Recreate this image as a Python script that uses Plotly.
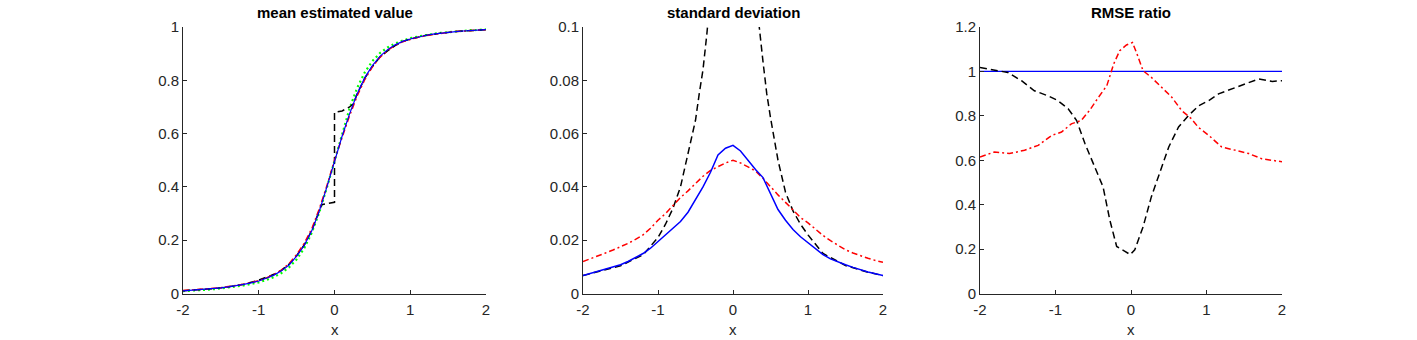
import plotly.graph_objects as go

# ---------------- data ----------------
x_grid = [round(-2 + 0.1 * i, 1) for i in range(41)]

# panel 1: mean estimated value
mean_blue = [0.010, 0.012, 0.014, 0.016, 0.018, 0.021, 0.025, 0.029, 0.034, 0.040,
             0.047, 0.057, 0.069, 0.085, 0.107, 0.140, 0.180, 0.235, 0.310, 0.400,
             0.500, 0.590, 0.675, 0.750, 0.810, 0.855, 0.890, 0.915, 0.933, 0.946,
             0.955, 0.962, 0.968, 0.973, 0.977, 0.980, 0.983, 0.985, 0.987, 0.989, 0.990]
mean_red = [0.011, 0.013, 0.015, 0.017, 0.019, 0.022, 0.026, 0.030, 0.035, 0.041,
            0.048, 0.058, 0.071, 0.088, 0.112, 0.146, 0.188, 0.243, 0.318, 0.405,
            0.500, 0.585, 0.668, 0.742, 0.803, 0.850, 0.886, 0.912, 0.931, 0.945,
            0.954, 0.961, 0.967, 0.972, 0.976, 0.980, 0.983, 0.985, 0.987, 0.989, 0.990]
mean_green = [0.009, 0.010, 0.012, 0.014, 0.016, 0.019, 0.022, 0.026, 0.030, 0.036,
              0.042, 0.051, 0.062, 0.077, 0.098, 0.128, 0.170, 0.228, 0.305, 0.398,
              0.500, 0.602, 0.695, 0.772, 0.830, 0.872, 0.902, 0.923, 0.938, 0.949,
              0.958, 0.964, 0.970, 0.974, 0.978, 0.981, 0.984, 0.986, 0.988, 0.989, 0.991]
x_mean_black = [-2.0, -1.8, -1.6, -1.4, -1.2, -1.0, -0.9, -0.8, -0.7, -0.6, -0.5, -0.4,
                -0.3, -0.2, -0.17, -0.1, 0.0, 0.0, 0.1, 0.2, 0.25, 0.3, 0.4, 0.5, 0.6,
                0.7, 0.8, 0.9, 1.0, 1.2, 1.4, 1.6, 1.8, 2.0]
mean_black = [0.010, 0.014, 0.018, 0.025, 0.035, 0.050, 0.060, 0.072, 0.088, 0.110, 0.142, 0.182,
              0.237, 0.312, 0.333, 0.337, 0.342, 0.680, 0.685, 0.700, 0.712, 0.750, 0.808, 0.852, 0.887,
              0.910, 0.930, 0.945, 0.955, 0.968, 0.977, 0.983, 0.987, 0.990]

# panel 2: standard deviation
std_blue = [0.0067, 0.0075, 0.0083, 0.0091, 0.0099, 0.0108, 0.0120, 0.0135, 0.0150, 0.0170,
            0.0195, 0.0220, 0.0245, 0.0270, 0.0305, 0.0350, 0.0400, 0.0455, 0.0520, 0.0545,
            0.0556, 0.0535, 0.0500, 0.0465, 0.0435, 0.0375, 0.0315, 0.0275, 0.0240, 0.0213,
            0.0190, 0.0168, 0.0146, 0.0130, 0.0118, 0.0108, 0.0098, 0.0089, 0.0081, 0.0074, 0.0067]
std_red = [0.0120, 0.0130, 0.0141, 0.0152, 0.0163, 0.0175, 0.0188, 0.0203, 0.0220, 0.0245,
           0.0275, 0.0300, 0.0330, 0.0360, 0.0385, 0.0412, 0.0440, 0.0462, 0.0477, 0.0490,
           0.0500, 0.0490, 0.0475, 0.0460, 0.0432, 0.0400, 0.0370, 0.0342, 0.0312, 0.0285,
           0.0265, 0.0240, 0.0218, 0.0198, 0.0180, 0.0164, 0.0152, 0.0141, 0.0132, 0.0124, 0.0117]
x_std_black = [-2.0, -1.8, -1.5, -1.2, -1.0, -0.9, -0.8, -0.7, -0.6, -0.5, -0.45, -0.4, -0.35,
               -0.3, -0.2, 0.0, 0.2, 0.3, 0.35, 0.4, 0.45, 0.5, 0.6, 0.7, 0.8, 0.9, 1.0, 1.2,
               1.5, 1.8, 2.0]
std_black = [0.0067, 0.0082, 0.0104, 0.0145, 0.0210, 0.0260, 0.0320, 0.0400, 0.0520, 0.0650, 0.0750,
             0.0840, 0.0970, 0.1150, 0.1600, 0.2000, 0.1600, 0.1200, 0.1000, 0.0870, 0.0750,
             0.0660, 0.0500, 0.0380, 0.0310, 0.0260, 0.0220, 0.0150, 0.0105, 0.0080, 0.0067]

# panel 3: RMSE ratio
x_rmse_black = [-2.0, -1.81, -1.63, -1.45, -1.28, -1.1, -0.97, -0.83, -0.72, -0.61, -0.48, -0.37,
                -0.28, -0.19, -0.08, -0.01, 0.05, 0.16, 0.27, 0.39, 0.5, 0.63, 0.76, 0.9,
                1.03, 1.16, 1.33, 1.51, 1.69, 1.87, 2.0]
rmse_black = [1.018, 1.006, 0.995, 0.958, 0.913, 0.890, 0.869, 0.831, 0.779, 0.675, 0.570, 0.480,
              0.330, 0.212, 0.190, 0.175, 0.197, 0.300, 0.436, 0.555, 0.660, 0.750, 0.801, 0.846,
              0.869, 0.899, 0.921, 0.943, 0.966, 0.955, 0.958]
x_rmse_red = [-2.0, -1.81, -1.61, -1.41, -1.23, -1.05, -0.92, -0.79, -0.66, -0.55, -0.43, -0.32,
              -0.23, -0.15, -0.06, 0.02, 0.08, 0.16, 0.27, 0.41, 0.54, 0.67, 0.8, 0.89,
              1.03, 1.2, 1.38, 1.56, 1.73, 2.0]
rmse_red = [0.615, 0.637, 0.630, 0.645, 0.667, 0.712, 0.727, 0.764, 0.779, 0.824, 0.884, 0.936,
            1.033, 1.093, 1.119, 1.130, 1.078, 1.003, 0.973, 0.928, 0.884, 0.824, 0.787, 0.749,
            0.712, 0.660, 0.645, 0.630, 0.607, 0.593]
x_ref = [-2.0, 2.0]
rmse_ref = [1.0, 1.0]

titles = ["mean estimated value", "standard deviation", "RMSE ratio"]
x_ticks = [-2, -1, 0, 1, 2]
y_ticks = [[0, 0.2, 0.4, 0.6, 0.8, 1], [0, 0.02, 0.04, 0.06, 0.08, 0.1],
           [0, 0.2, 0.4, 0.6, 0.8, 1, 1.2]]
y_tick_text = [["0", "0.2", "0.4", "0.6", "0.8", "1"],
               ["0", "0.02", "0.04", "0.06", "0.08", "0.1"],
               ["0", "0.2", "0.4", "0.6", "0.8", "1", "1.2"]]
y_ranges = [[0, 1], [0, 0.1], [0, 1.2]]

# ---------------- styling ----------------
W, H = 1417, 340
BLACK = "#000000"
RED = "#FF0000"
BLUE = "#0000FF"
GREEN = "#00FF00"
DASH = "7px,4px"
DASHDOT = "6px,3px,2px,3px"
DOT = "2px,3px"
AX = "#262626"
FONT = "Liberation Sans, Arial, sans-serif"

x_px = [(183, 486), (583, 883), (980, 1282)]
y_px = (27, 293.5)

fig = go.Figure()

def add(xs, ys, color, dash, ax, width=1.5):
    fig.add_trace(go.Scatter(x=xs, y=ys, mode="lines", xaxis="x" if ax == 1 else f"x{ax}",
                             yaxis="y" if ax == 1 else f"y{ax}",
                             line=dict(color=color, dash=dash, width=width),
                             showlegend=False, hoverinfo="skip"))

add(x_grid, mean_green, GREEN, DOT, 1, 2.2)
add(x_mean_black, mean_black, BLACK, DASH, 1)
add(x_grid, mean_red, RED, DASHDOT, 1)
add(x_grid, mean_blue, BLUE, "solid", 1, 1.2)

add(x_std_black, std_black, BLACK, DASH, 2)
add(x_grid, std_red, RED, DASHDOT, 2)
add(x_grid, std_blue, BLUE, "solid", 2)

add(x_ref, rmse_ref, BLUE, "solid", 3, 1.3)
add(x_rmse_black, rmse_black, BLACK, DASH, 3)
add(x_rmse_red, rmse_red, RED, DASHDOT, 3)

layout = dict(template="none", width=W, height=H, margin=dict(l=0, r=0, t=0, b=0),
              paper_bgcolor="white", plot_bgcolor="white",
              font=dict(family=FONT, size=15, color=AX), annotations=[])
ydom = [1 - y_px[1] / H, 1 - y_px[0] / H]
for i in range(3):
    sfx = "" if i == 0 else str(i + 1)
    xd = [x_px[i][0] / W, x_px[i][1] / W]
    layout["xaxis" + sfx] = dict(domain=xd, range=[-2, 2], tickvals=x_ticks,
                                 ticktext=[str(t) for t in x_ticks], automargin=False,
                                 showgrid=False, zeroline=False, showline=True,
                                 linecolor=AX, linewidth=1, ticks="inside", ticklen=4,
                                 tickcolor=AX, tickfont=dict(size=15, color=AX),
                                 ticklabelstandoff=2,
                                 anchor="y" + sfx, fixedrange=True)
    layout["yaxis" + sfx] = dict(domain=ydom, range=y_ranges[i], tickvals=y_ticks[i],
                                 ticktext=y_tick_text[i], automargin=False,
                                 showgrid=False, zeroline=False, showline=True,
                                 linecolor=AX, linewidth=1, ticks="inside", ticklen=4,
                                 tickcolor=AX, tickfont=dict(size=15, color=AX),
                                 anchor="x" + sfx, fixedrange=True)
    xc = (xd[0] + xd[1]) / 2
    layout["annotations"].append(dict(text="<b>" + titles[i] + "</b>", x=xc, y=1 - 13 / H,
                                      xref="paper", yref="paper", showarrow=False,
                                      font=dict(size=15, color="#000000", family=FONT),
                                      xanchor="center", yanchor="middle"))
    layout["annotations"].append(dict(text="x", x=xc, y=1 - 329 / H,
                                      xref="paper", yref="paper", showarrow=False,
                                      font=dict(size=15, color=AX, family=FONT),
                                      xanchor="center", yanchor="middle"))

fig.update_layout(**layout)
fig.write_html("out.html", config={"displayModeBar": False},
               post_script="document.body.style.margin='0';document.body.style.overflow='hidden';")
